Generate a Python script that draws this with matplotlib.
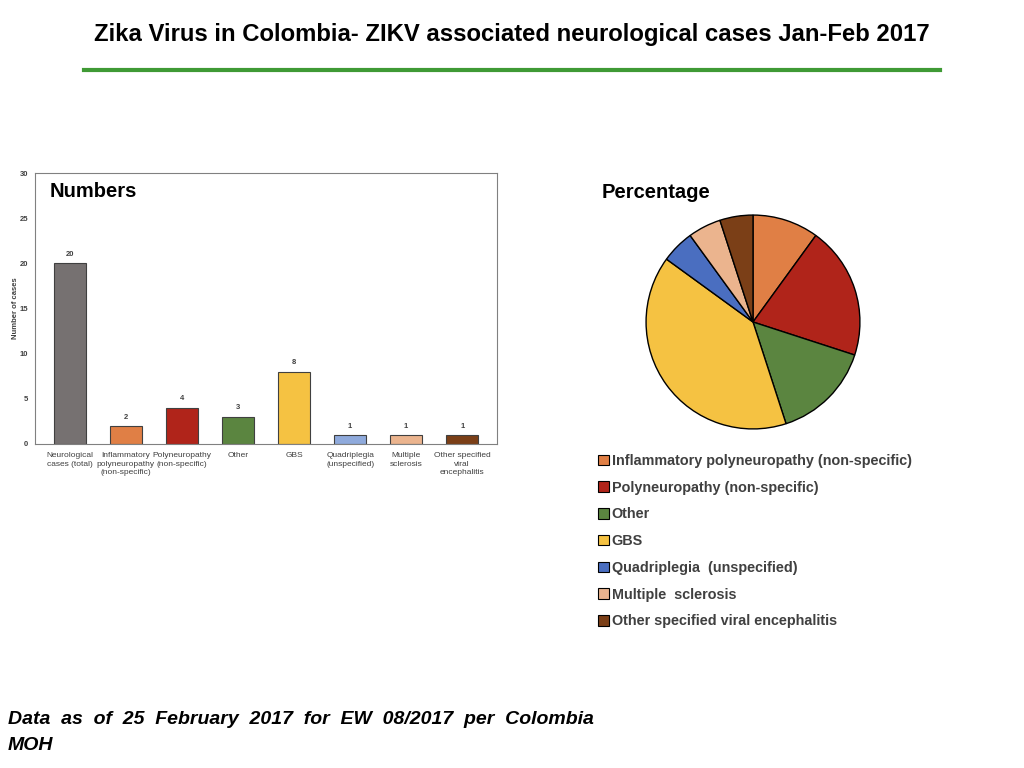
import numpy as np
from matplotlib import pyplot as plt
from matplotlib.lines import Line2D
from matplotlib.patches import Patch

plt.rcParams['font.family'] = ['Liberation Sans', 'DejaVu Sans']

# bar chart data
bar_labels = ['Neurological\ncases (total)', 'Inflammatory\npolyneuropathy\n(non-specific)',
              'Polyneuropathy\n(non-specific)', 'Other', 'GBS', 'Quadriplegia\n(unspecified)',
              'Multiple\nsclerosis', 'Other specified\nviral\nencephalitis']
bar_values = [20, 2, 4, 3, 8, 1, 1, 1]
bar_colors = ['#767171', '#E07F45', '#B0241A', '#5B8540', '#F5C242', '#8FAADC', '#EBB48E', '#7B3F17']

# pie data
pie_labels = ['Inflammatory polyneuropathy (non-specific)', 'Polyneuropathy (non-specific)',
              'Other', 'GBS', 'Quadriplegia  (unspecified)', 'Multiple  sclerosis',
              'Other specified viral encephalitis']
pie_values = [2, 4, 3, 8, 1, 1, 1]
pie_colors = ['#E07F45', '#B0241A', '#5B8540', '#F5C242', '#4A6EC0', '#EBB48E', '#7B3F17']

fig = plt.figure(figsize=(10.24, 7.68), dpi=100)

fig.text(0.5, 1 - 35/768, 'Zika Virus in Colombia- ZIKV associated neurological cases Jan-Feb 2017',
         ha='center', va='center', fontsize=17.2, fontweight='bold')
fig.add_artist(Line2D([84/1024, 940/1024], [1 - 70/768, 1 - 70/768], color='#3F9A35', lw=3))

# bars
ax = fig.add_axes([35/1024, 1 - 444/768, 462/1024, 271/768])
x = np.arange(len(bar_values))
ax.bar(x, bar_values, width=0.58, color=bar_colors, edgecolor='#404040', linewidth=0.8)
for xi, v in zip(x, bar_values):
    ax.text(xi, v + 0.6, str(v), ha='center', va='bottom', fontsize=5.5, color='#404040', fontweight='bold')
ax.set_ylim(0, 30)
ax.set_xlim(-0.62, len(bar_values) - 0.38)
ax.set_yticks(range(0, 31, 5))
ax.set_xticks(x)
ax.set_xticklabels(bar_labels, fontsize=6, color='#404040', linespacing=1.3)
ax.tick_params(axis='both', length=0, colors='#404040')
ax.tick_params(axis='y', labelsize=5.5)
ax.tick_params(axis='x', pad=6)
ax.tick_params(axis='y', pad=5)
for t in ax.get_yticklabels():
    t.set_fontweight('bold')
ax.set_ylabel('Number of cases', fontsize=5.5, color='#404040', fontweight='bold')
ax.yaxis.set_label_coords(-0.035, 0.5)
for s in ax.spines.values():
    s.set_color('#808080')
    s.set_linewidth(0.8)
ax.text(0.032, 0.93, 'Numbers', transform=ax.transAxes, fontsize=14.5, fontweight='bold', va='center')

# pie
r = 108
pax = fig.add_axes([(753 - r)/1024, 1 - (322 + r)/768, 2*r/1024, 2*r/768])
pax.pie(pie_values, colors=pie_colors, startangle=90, counterclock=False,
        wedgeprops=dict(edgecolor='black', linewidth=1))
pax.set_xlim(-1.01, 1.01)
pax.set_ylim(-1.01, 1.01)
pax.set_aspect('equal')
fig.text(602/1024, 1 - 193/768, 'Percentage', fontsize=14.5, fontweight='bold', va='center')

handles = [Patch(facecolor=c, edgecolor='black', linewidth=0.8) for c in pie_colors]
fig.legend(handles, pie_labels, loc='upper left', bbox_to_anchor=(585/1024, 1 - 441/768),
           frameon=False, labelcolor='#404040', handlelength=0.75, handleheight=0.75,
           handletextpad=0.2, labelspacing=0.88, prop={'weight': 'bold', 'size': 10.4})

fig.text(8/1024, 1 - 720/768, 'Data  as  of  25  February  2017  for  EW  08/2017  per  Colombia',
         fontsize=14, fontweight='bold', fontstyle='italic', va='center')
fig.text(8/1024, 1 - 745/768, 'MOH', fontsize=14, fontweight='bold', fontstyle='italic', va='center')

fig.savefig('out.png', dpi=100)
